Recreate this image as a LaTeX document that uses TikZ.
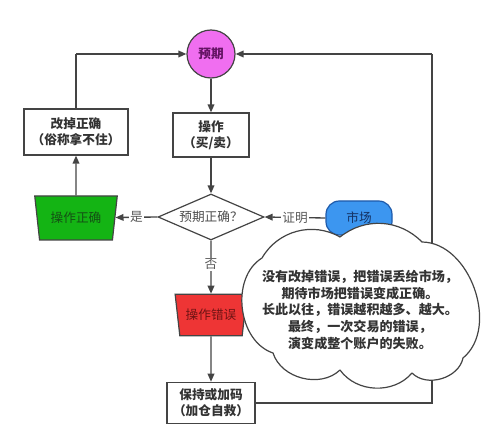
\documentclass[tikz,border=0pt]{standalone}
\usepackage{fontspec}
\setmainfont{Noto Sans CJK SC}
\usetikzlibrary{shapes.geometric,arrows.meta}
\definecolor{ln}{HTML}{444444}
\definecolor{pinkf}{HTML}{F06EF0}
\definecolor{greenf}{HTML}{14B414}
\definecolor{redf}{HTML}{EE3535}
\definecolor{bluef}{HTML}{3C96F0}
\tikzset{
  box/.style={draw=ln,line width=0.9pt,fill=white,font=\fontsize{9.5}{12}\selectfont\bfseries,text=black!80,align=center,inner sep=0pt},
  arr/.style={draw=ln,line width=1pt,-{Triangle[length=6pt,width=5pt]}},
  ln/.style={draw=ln,line width=1pt},
  lbl/.style={fill=white,inner sep=1pt,text=black!65,font=\fontsize{9.5}{11}\selectfont},
  trap/.style={trapezium,shape border rotate=180,draw=ln,line width=0.9pt,trapezium stretches=true,inner sep=0pt,font=\fontsize{9.5}{11}\selectfont},
  cloudline/.style={draw=ln,line width=0.9pt,fill=white,line join=round}
}
\begin{document}
\begin{tikzpicture}[x=0.75pt,y=-0.75pt]
\useasboundingbox (0,0) rectangle (500,424);
\node[circle,draw=ln,line width=0.9pt,fill=pinkf,minimum size=36pt,inner sep=0pt,font=\fontsize{9.5}{11}\selectfont\bfseries,text={rgb,255:red,100;green,20;blue,100}] (yq) at (211,54) {预期};
\node[box,minimum width=57pt,minimum height=33pt] (cz) at (211,135) {操作\\（买/卖）};
\node[box,minimum width=78pt,minimum height=34.5pt] (gd) at (76,132) {改掉正确\\（俗称拿不住）};
\node[diamond,draw=ln,line width=0.9pt,fill=white,aspect=2.3,inner sep=0pt,minimum width=79.5pt,minimum height=34.5pt,text=black!70,font=\fontsize{9.5}{11}\selectfont] (yz) at (211,217) {预期正确？};
\node[trap,fill=greenf,trapezium left angle=74,trapezium right angle=74,minimum width=62pt,minimum height=33pt,text={rgb,255:red,20;green,80;blue,20}] (zq) at (76,218) {操作正确};
\node[rounded corners=10pt,draw={rgb,255:red,30;green,90;blue,170},line width=0.9pt,fill=bluef,minimum width=49.5pt,minimum height=25.5pt,inner sep=0pt,text={rgb,255:red,20;green,50;blue,100},font=\fontsize{9.5}{11}\selectfont] (sc) at (359,218) {市场};
\node[trap,fill=redf,trapezium left angle=72,trapezium right angle=72,minimum width=54pt,minimum height=31pt,text={rgb,255:red,110;green,20;blue,20}] (cw) at (211,315) {操作错误};
\node[box,minimum width=66pt,minimum height=31pt] (bc) at (211,403) {保持或加码\\（加仓自救）};
\coordinate (lc) at (76,54);
\coordinate (rc) at (432,54);
% connectors
\draw[arr] (yq) -- (cz);
\draw[arr] (cz) -- (yz);
\draw[arr] (yz.west) -- node[lbl]{是} (zq);
\draw[arr] (zq) -- (gd);
\draw[ln] (gd.north) -- (lc);
\draw[arr] (lc) -- (yq.west);
\draw[arr] (sc.west) -- node[lbl]{证明} (yz.east);
\draw[arr] (yz.south) -- node[lbl,pos=0.45]{否} (cw);
\draw[arr] (cw) -- (bc);
\draw[ln] (bc.east) -| (rc);
\draw[arr] (rc) -- (yq.east);
% cloud
\coordinate (cA) at (262,258);
\coordinate (cB) at (340,237);
\coordinate (cC) at (422,242);
\coordinate (cD) at (463,358);
\coordinate (cE) at (412,373);
\coordinate (cF) at (340,370);
\coordinate (cG) at (273,353);
\path[cloudline] (cA) to[bend left=45] (cB) to[bend left=42] (cC) to[bend left=70] (cD)
  to[bend left=62] (cE) to[bend left=52] (cF) to[bend left=58] (cG) to[bend left=65] (cA) -- cycle;
\node[align=center,font=\fontsize{9.8}{12.4}\selectfont\bfseries,text=black!80] (ct) at (360,310) {没有改掉错误，把错误丢给市场，\\期待市场把错误变成正确。\\长此以往，错误越积越多、越大。\\最终，一次交易的错误，\\演变成整个账户的失败。};
\end{tikzpicture}
\end{document}
